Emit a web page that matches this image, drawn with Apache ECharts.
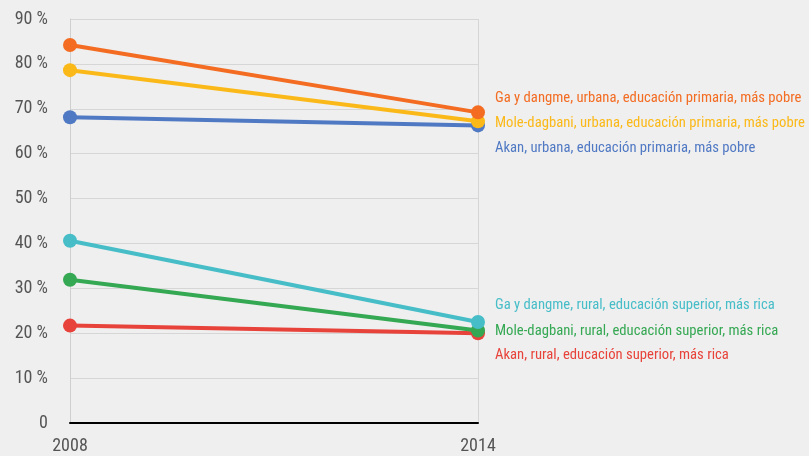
<!DOCTYPE html>
<html>
<head>
<meta charset="utf-8">
<script src="https://cdn.jsdelivr.net/npm/echarts@6/dist/echarts.min.js"></script>
<style>
  html, body { margin: 0; padding: 0; background: #efefef; }
  #main { width: 809px; height: 456px; }
</style>
</head>
<body>
<div id="main"></div>
<script>
// 年份
var years = ['2008', '2014'];
// 各组 (%)
var akanRural = [21.7, 20.0];
var moleRural = [31.9, 20.6];
var gaRural = [40.6, 22.5];
var akanUrban = [68.1, 66.3];
var moleUrban = [78.6, 67.2];
var gaUrban = [84.2, 69.2];

var names = [
  'Akan, rural, educación superior, más rica',
  'Mole-dagbani, rural, educación superior, más rica',
  'Ga y dangme, rural, educación superior, más rica',
  'Akan, urbana, educación primaria, más pobre',
  'Mole-dagbani, urbana, educación primaria, más pobre',
  'Ga y dangme, urbana, educación primaria, más pobre'
];
var values = [akanRural, moleRural, gaRural, akanUrban, moleUrban, gaUrban];
var colors = ['#e8433a', '#35a853', '#47bdc8', '#5079c4', '#fbb919', '#f36c22'];
// 标签上下偏移
var dys = [22, 1, -17, 23, 2, -14];

var font = '"Roboto Condensed", "DejaVu Sans Condensed", sans-serif';

var myChart = echarts.init(document.getElementById('main'));

var series = values.map(function (v, i) {
  return {
    name: names[i],
    type: 'line',
    data: v,
    symbol: 'circle',
    symbolSize: 14,
    lineStyle: { width: 4, color: colors[i] },
    itemStyle: { color: colors[i] },
    z: 2 + i,
    endLabel: {
      show: true,
      formatter: '{a}',
      color: colors[i],
      fontFamily: font,
      fontSize: 14.7,
      distance: 0,
      offset: [17, dys[i]]
    }
  };
});

var option = {
  backgroundColor: '#efefef',
  animation: false,
  grid: { left: 70, right: 331, top: 19, bottom: 33 },
  xAxis: {
    type: 'category',
    data: years,
    boundaryGap: false,
    axisLine: { lineStyle: { color: '#000', width: 2 } },
    axisTick: { show: false },
    axisLabel: { color: '#555', fontFamily: font, fontSize: 18, margin: 14 },
    splitLine: { show: true, lineStyle: { color: '#d6d6d6' } }
  },
  yAxis: {
    type: 'value',
    min: 0,
    max: 90,
    interval: 10,
    axisLine: { show: true, lineStyle: { color: '#cfcfcf' } },
    axisTick: { show: false },
    axisLabel: {
      color: '#555',
      fontFamily: font,
      fontSize: 18,
      margin: 22,
      formatter: function (v) { return v === 0 ? '0' : v + ' %'; }
    },
    splitLine: { lineStyle: { color: '#d6d6d6' } }
  },
  series: series
};

myChart.setOption(option);
</script>
</body>
</html>
